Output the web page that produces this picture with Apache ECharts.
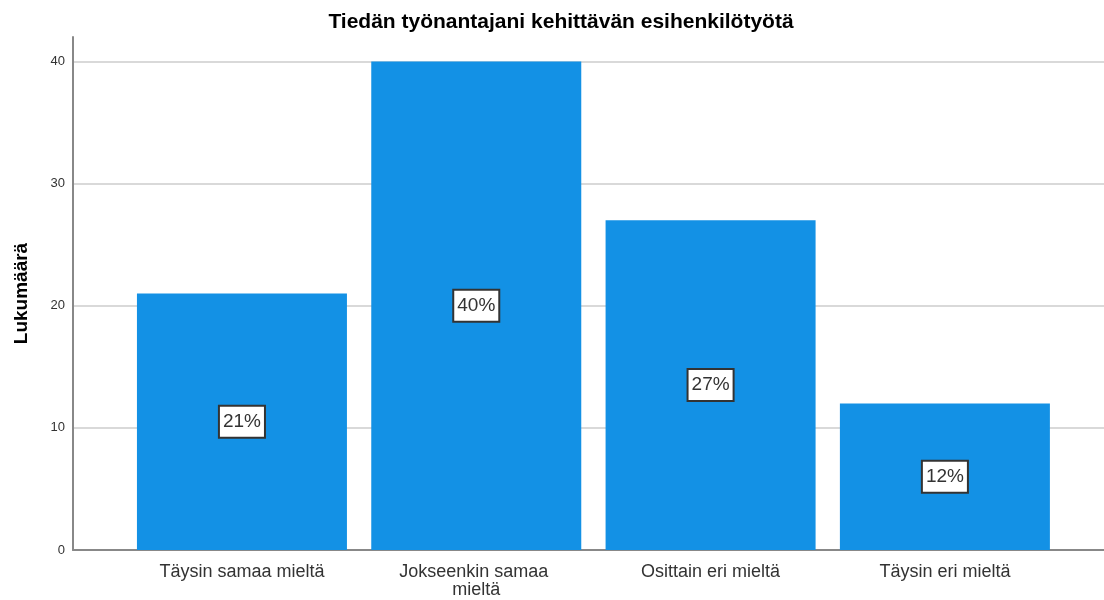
<!DOCTYPE html>
<html>
<head>
<meta charset="utf-8">
<script src="https://cdn.jsdelivr.net/npm/echarts@6/dist/echarts.min.js"></script>
<style>
  html, body { margin: 0; padding: 0; background: #fff; }
  #chart { width: 1104px; height: 600px; }
</style>
</head>
<body>
<div id="chart"></div>
<script>
const titleText = 'Tiedän työnantajani kehittävän esihenkilötyötä'
const categories = ['Täysin samaa mieltä', 'Jokseenkin samaa mieltä', 'Osittain eri mieltä', 'Täysin eri mieltä']
const counts = [21, 40, 27, 12]
const yTicks = [0, 10, 20, 30, 40]

const total = counts.reduce((a, b) => a + b, 0)
// kategoriat arvoakselille, jotta pylväät ovat oikeissa kohdissa
const barData = counts.map((v, i) => [i, v])

const chart = echarts.init(document.getElementById('chart'))
const option = {
  animation: false,
  textStyle: { fontFamily: 'Liberation Sans, Arial, sans-serif' },
  title: {
    text: titleText,
    left: 556,
    textAlign: 'center',
    top: 7,
    textStyle: { fontSize: 21, fontWeight: 'bold', color: '#000' }
  },
  grid: { left: 73, right: 0, top: 37, bottom: 50 },
  xAxis: {
    type: 'value',
    min: -0.721,
    max: 3.679,
    axisLine: { show: true, onZero: false, lineStyle: { color: '#888', width: 2 } },
    axisTick: { show: false },
    splitLine: { show: false },
    axisLabel: {
      customValues: [0, 1, 2, 3],
      formatter: v => categories[Math.round(v)],
      color: '#333',
      fontSize: 18,
      margin: 13,
      width: 196,
      overflow: 'break',
      lineHeight: 18
    }
  },
  yAxis: {
    type: 'value',
    min: 0,
    max: 42,
    name: 'Lukumäärä',
    nameLocation: 'middle',
    nameGap: 42,
    nameTextStyle: { fontSize: 19, fontWeight: 'bold', color: '#000' },
    axisLine: { show: true, onZero: false, lineStyle: { color: '#888', width: 2 } },
    axisTick: { show: false, customValues: yTicks },
    axisLabel: { customValues: yTicks, color: '#333', fontSize: 13, margin: 8 },
    splitLine: { show: true, lineStyle: { color: '#d9d9d9', width: 2 } }
  },
  series: [{
    type: 'bar',
    data: barData,
    barWidth: 210,
    itemStyle: { color: '#1391e5' },
    label: {
      show: true,
      position: 'inside',
      formatter: p => Math.round(p.value[1] / total * 100) + '%',
      color: '#333',
      fontSize: 19,
      backgroundColor: '#fff',
      borderColor: '#333',
      borderWidth: 2,
      padding: [6, 3, 5, 3]
    }
  }]
}
chart.setOption(option)
</script>
</body>
</html>
